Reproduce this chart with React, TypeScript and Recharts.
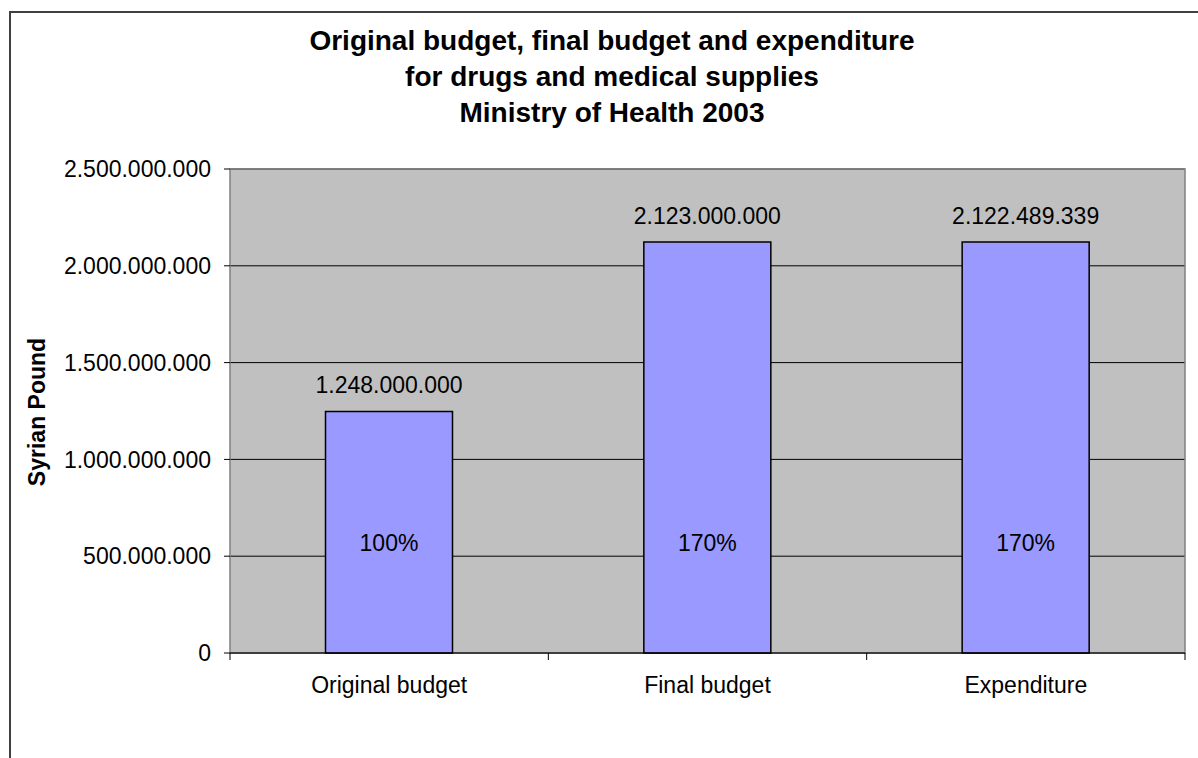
import React from 'react';
import {
  BarChart,
  Bar,
  XAxis,
  YAxis,
  CartesianGrid,
  LabelList,
  ReferenceArea,
} from 'recharts';

const categories = ['Original budget', 'Final budget', 'Expenditure'];
const amounts = [1248000000, 2123000000, 2122489339];
const percents = ['100%', '170%', '170%'];
const yTicks = [0, 500000000, 1000000000, 1500000000, 2000000000, 2500000000];
const edgeTicks = [0, 0.5, 1, 1.5, 2, 2.5, 3];
const titleLines = [
  'Original budget, final budget and expenditure',
  'for drugs and medical supplies',
  'Ministry of Health 2003',
];
const yLabel = 'Syrian Pound';

const data = categories.map((c, i) => ({ name: c, value: amounts[i], pct: percents[i], slot: i + 0.5 }));

const fmt = (v: number | string) =>
  String(v).replace(/\B(?=(\d{3})+(?!\d))/g, '.');

const FONT = '"Liberation Sans", Arial, sans-serif';

const EdgeTick = (props: any) => {
  const { x, y, payload } = props;
  const v = payload.value as number;
  if (Number.isInteger(v)) {
    return <line x1={x} y1={y} x2={x} y2={y + 7} stroke="#000" strokeWidth={1} />;
  }
  return (
    <text
      x={x}
      y={y + 24}
      dy="0.71em"
      textAnchor="middle"
      fill="#000"
      fontSize={23}
      fontFamily={FONT}
    >
      {categories[Math.floor(v)]}
    </text>
  );
};

export default function App() {
  return (
    <div
      style={{
        position: 'absolute',
        left: 0,
        top: 0,
        width: 1198,
        height: 758,
        overflow: 'hidden',
        background: '#fff',
        fontFamily: FONT,
      }}
    >
      <div
        style={{
          position: 'absolute',
          left: 9,
          top: 11,
          width: 1400,
          height: 1000,
          border: '2px solid #404040',
        }}
      />
      <div style={{ position: 'absolute', left: 0, top: 0 }}>
        <BarChart
          width={1198}
          height={758}
          data={data}
          margin={{ top: 169, right: 13, left: 0, bottom: 104 }}
          barCategoryGap="30%"
          style={{ fontFamily: FONT }}
        >
          <CartesianGrid
            vertical={false}
            fill="#C0C0C0"
            fillOpacity={1}
            stroke="#000"
            strokeOpacity={1}
          />
          <XAxis dataKey="name" hide height={0} />
          <XAxis
            xAxisId="edges"
            type="number"
            dataKey="slot"
            domain={[0, 3]}
            ticks={edgeTicks}
            tick={EdgeTick}
            axisLine={{ stroke: '#000', strokeWidth: 1 }}
            tickLine={false}
            tickSize={0}
            tickMargin={0}
            height={1}
            interval={0}
            allowDataOverflow
          />
          <YAxis
            width={230}
            domain={[0, 2500000000]}
            ticks={yTicks}
            tickFormatter={fmt}
            axisLine={false}
            tickLine={{ stroke: '#000' }}
            tickSize={6}
            tickMargin={13}
            tick={{ fill: '#000', fontSize: 23, fontFamily: FONT }}
            interval={0}
          />
          <ReferenceArea
            xAxisId="edges"
            x1={0}
            x2={3}
            y1={0}
            y2={2500000000}
            fill="none"
            fillOpacity={0}
            stroke="#808080"
            strokeWidth={1.5}
          />
          <Bar
            dataKey="value"
            fill="#9999FF"
            stroke="#000"
            strokeWidth={1.5}
            isAnimationActive={false}
          >
            <LabelList
              dataKey="value"
              position="top"
              offset={18}
              formatter={fmt}
              fill="#000"
              fontSize={23}
              fontFamily={FONT}
            />
            <LabelList
              dataKey="pct"
              position="insideBottom"
              offset={102}
              fill="#000"
              fontSize={23}
              fontFamily={FONT}
            />
          </Bar>
        </BarChart>
      </div>
      <svg
        width={1198}
        height={758}
        style={{ position: 'absolute', left: 0, top: 0, pointerEvents: 'none' }}
      >
        {titleLines.map((t, i) => (
          <text
            key={i}
            x={612}
            y={50 + i * 36}
            textAnchor="middle"
            fontFamily={FONT}
            fontWeight="bold"
            fontSize={28}
            fill="#000"
          >
            {t}
          </text>
        ))}
        <text
          transform="translate(45,412) rotate(-90)"
          textAnchor="middle"
          fontFamily={FONT}
          fontWeight="bold"
          fontSize={23}
          fill="#000"
        >
          {yLabel}
        </text>
      </svg>
    </div>
  );
}
